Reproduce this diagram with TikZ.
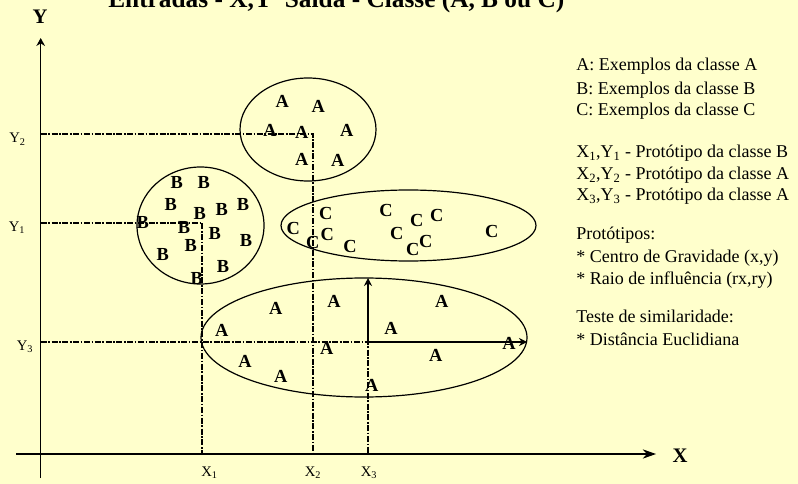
\documentclass[tikz,border=0pt]{standalone}
\usepackage{fontspec}
\setmainfont{Liberation Serif}
\usetikzlibrary{shapes.geometric,arrows.meta}
\definecolor{bg}{HTML}{FFFFCC}
\begin{document}
\begin{tikzpicture}[x=0.75pt,y=-0.75pt,
  ltr/.style={font=\fontsize{13.8}{14}\selectfont\bfseries, inner sep=0pt},
  axlab/.style={font=\fontsize{11}{11}\selectfont, inner sep=0pt},
  leg/.style={font=\fontsize{13.5}{14}\selectfont, inner sep=0pt, anchor=base west},
  big/.style={font=\fontsize{15.5}{16}\selectfont\bfseries, inner sep=0pt},
  cluster/.style={draw, ellipse, line width=0.9pt, inner sep=0pt, outer sep=0pt},
  axis/.style={line width=0.9pt},
  dd/.style={line width=1.4pt, dash pattern=on 4.5pt off 1.2pt on 1.2pt off 1.2pt},
  inarrow/.style={line width=0.9pt, -{Stealth[length=6pt,width=6pt]}}]
\fill[bg] (0,0) rectangle (798,484);
\useasboundingbox (0,0) rectangle (798,484);

% title (cut off at the top, as in the reference)
\node[font=\fontsize{19}{19}\selectfont\bfseries, inner sep=0pt, anchor=base west] (title) at (108,8) {Entradas - X,Y\ \ Saída - Classe (A, B ou C)};

% axes
\coordinate (O) at (40.7,454);
\coordinate (xl) at (16,454);
\coordinate (xe) at (656,454);
\coordinate (yb) at (40.7,478);
\coordinate (ye) at (40.7,38);
\draw[axis,-{Stealth[length=10pt,width=7pt]}] (xl) -- (xe);
\draw[axis,-{Stealth[length=6pt,width=6.5pt]}] (yb) -- (ye);
\node[big] (X) at (680,456) {X};
\node[big] (Y) at (40,17) {Y};

% cluster outlines
\node[cluster, minimum width=102pt, minimum height=77.25pt] (eA2) at (308,129.5) {};
\node[cluster, minimum width=95.25pt, minimum height=87.75pt] (eB) at (200.5,225.5) {};
\node[cluster, minimum width=191.25pt, minimum height=53.25pt] (eC) at (408.5,225.5) {};
\node[cluster, minimum width=244.5pt, minimum height=89.25pt] (eA3) at (364,337.5) {};

% prototypes
\coordinate (p1) at (202,222.7);
\coordinate (p2) at (313,134);
\coordinate (p3) at (368,342);
\draw[dd] (O |- p2) -- (p2) -- (p2 |- O);
\draw[dd] (O |- p1) -- (p1) -- (p1 |- O);
\draw[dd] (O |- p3) -- (p3) -- (p3 |- O);
\draw[inarrow] (p3) -- (p3 |- eA3.north);
\draw[inarrow] (p3) -- (eA3.east |- p3);

% axis tick labels
\node[axlab, anchor=base] (ly2) at (17.5,143) {Y\textsubscript{2}};
\node[axlab, anchor=base] (ly1) at (17,231.7) {Y\textsubscript{1}};
\node[axlab, anchor=base] (ly3) at (25,350.7) {Y\textsubscript{3}};
\node[axlab, anchor=base] (lx1) at (209.5,476.7) {X\textsubscript{1}};
\node[axlab, anchor=base] (lx2) at (313,476.7) {X\textsubscript{2}};
\node[axlab, anchor=base] (lx3) at (369,476.7) {X\textsubscript{3}};

% examples
\foreach \x/\y [count=\i] in {282.3/101.7, 318.3/106, 270/130, 301.7/132.7, 346.7/130.7, 301.7/159, 337.7/160.7}
  \node[ltr] (ta\i) at (\x,\y) {A};
\foreach \x/\y [count=\i] in {176.7/182.7, 203.7/182.7, 170.7/205, 243/204.3, 221.7/210, 199.7/213.3, 142.7/222.7, 184/227.7, 214.7/234, 246/241, 190.7/245.3, 162.7/254.3, 223/266.7, 196.7/278.3}
  \node[ltr] (tb\i) at (\x,\y) {B};
\foreach \x/\y [count=\i] in {325.7/213.3, 386/210, 416.7/220.7, 436.7/215.7, 293.3/228.3, 327.3/234.3, 312.7/242.7, 350/246.7, 396.7/233.3, 425.7/241, 412.7/249.3, 491.7/231.7}
  \node[ltr] (tc\i) at (\x,\y) {C};
\foreach \x/\y [count=\i] in {275.7/308.3, 334/301.7, 441.7/301.7, 221.7/330, 391/328.3, 326.7/348.3, 435.7/355, 509/343.3, 245/361.7, 280.7/376.7, 371.7/385}
  \node[ltr] (td\i) at (\x,\y) {A};

% legend
\node[leg] (g1) at (576,71) {A: Exemplos da classe A};
\node[leg] (g2) at (576,94.3) {B: Exemplos da classe B};
\node[leg] (g3) at (576,116) {C: Exemplos da classe C};
\node[leg] (g4) at (576,157.3) {X\textsubscript{1},Y\textsubscript{1} - Protótipo da classe B};
\node[leg] (g5) at (576,179.3) {X\textsubscript{2},Y\textsubscript{2} - Protótipo da classe A};
\node[leg] (g6) at (576,200.7) {X\textsubscript{3},Y\textsubscript{3} - Protótipo da classe A};
\node[leg] (g7) at (576,239.3) {Protótipos:};
\node[leg] (g8) at (576,262.7) {* Centro de Gravidade (x,y)};
\node[leg] (g9) at (576,284.3) {* Raio de influência (rx,ry)};
\node[leg] (g10) at (576,322.7) {Teste de similaridade:};
\node[leg] (g11) at (576,345) {* Distância Euclidiana};
\end{tikzpicture}
\end{document}
